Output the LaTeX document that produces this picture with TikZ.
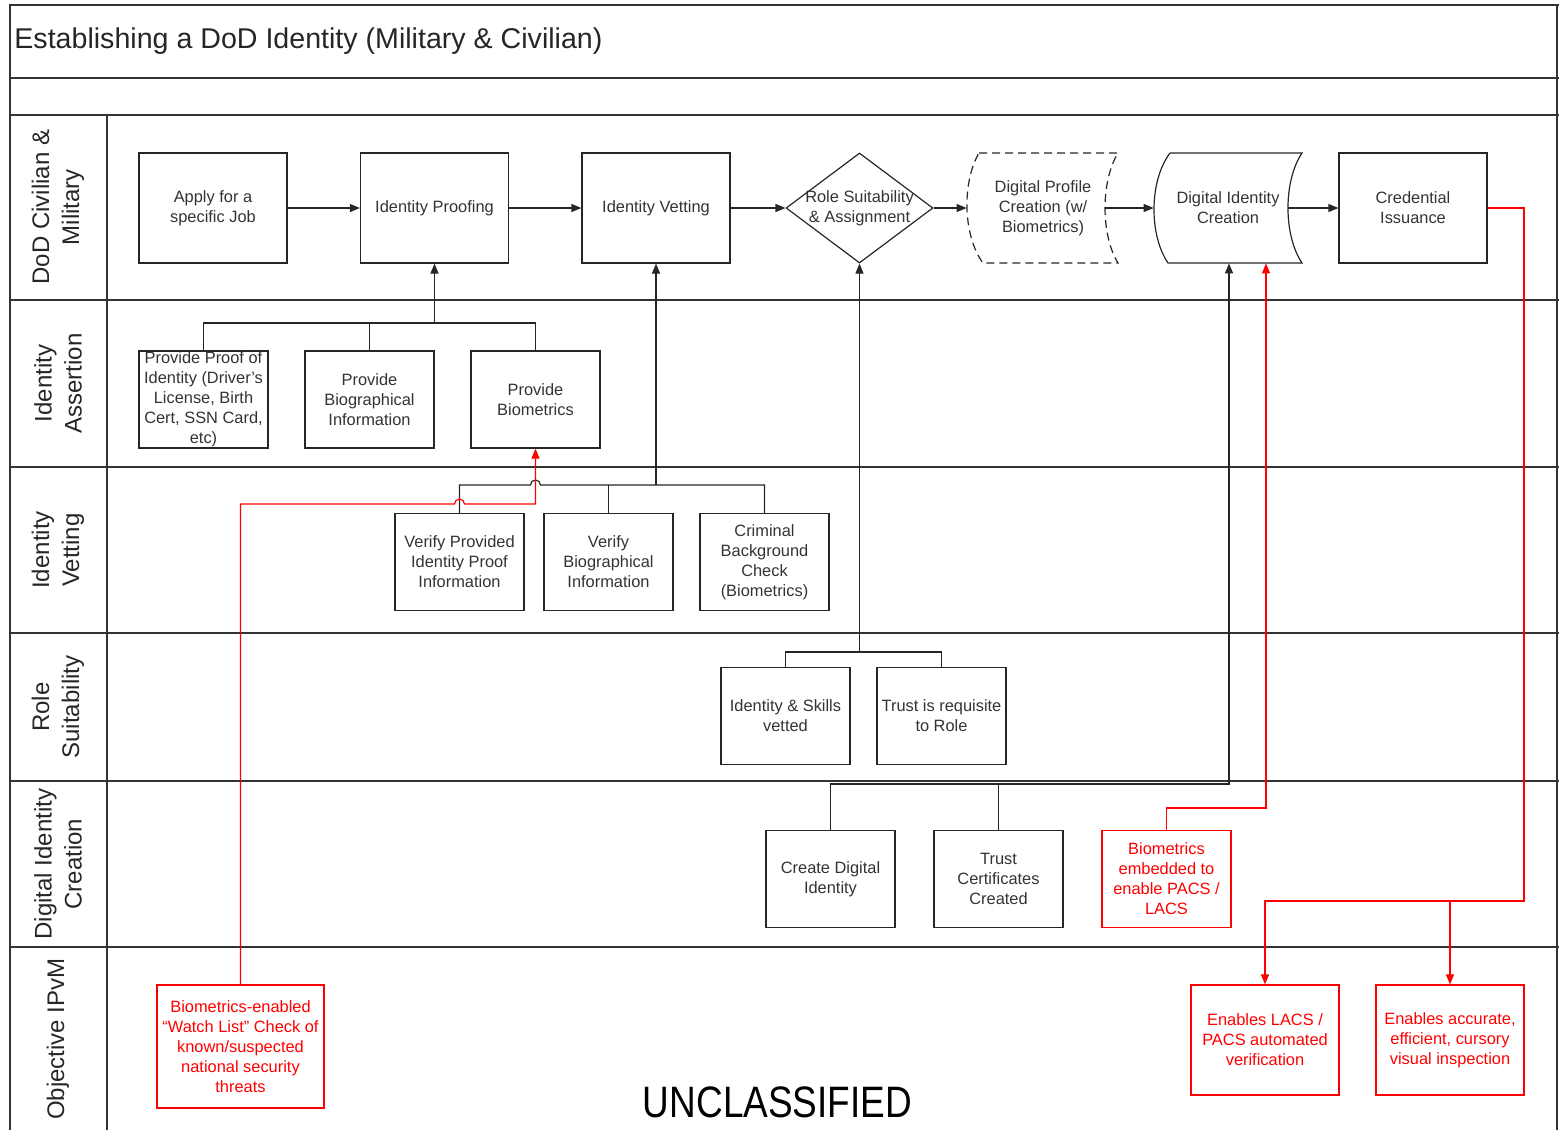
\documentclass[tikz,border=0pt]{standalone}
\usepackage{fontspec}
\setmainfont{Liberation Sans}
\usetikzlibrary{positioning}
\usetikzlibrary{shapes.geometric,arrows.meta}

\begin{document}
\begin{tikzpicture}[x=0.5pt,y=-0.5pt,
  boxtext/.style={text=black!80,align=center,font=\fontsize{8.2}{10}\selectfont},
  box/.style={boxtext,draw=black!85,line width=0.6pt,inner sep=1pt,
    minimum width=64.5pt,minimum height=48.5pt},
  bigbox/.style={box,minimum width=74pt,minimum height=55pt},
  redbox/.style={box,draw=red,text=red},
  lane/.style={rotate=90,align=center,text=black!85,font=\fontsize{12}{15}\selectfont},
  frame/.style={draw=black!80,line width=1pt},
  conn/.style={draw=black!85,line width=0.6pt},
  arr/.style={conn,-{Triangle[length=5pt,width=4pt]}},
  redline/.style={conn,draw=red},
  redarr/.style={redline,-{Triangle[length=5pt,width=4pt]}}
]
\useasboundingbox (0,0) rectangle (1559,1130);

\draw[frame] (10,1130) -- (10,5) -- (1559,5);
\draw[frame] (1557,5) -- (1557,1130);
\foreach \y in {78,115,300,467,633,781,947}
  \draw[frame] (10,\y) -- (1559,\y);
\draw[frame] (107,115) -- (107,1130);

\node[anchor=west,inner sep=0pt,text=black!85,font=\fontsize{14.3}{17}\selectfont] (title) at (14,41)
  {Establishing a DoD Identity (Military \& Civilian)};

\node[lane] (l1) at (58,207) {DoD Civilian \&\\Military};
\node[lane] (l2) at (58,383.5) {Identity\\Assertion};
\node[lane] (l3) at (58,550) {Identity\\Vetting};
\node[lane] (l4) at (58,707) {Role\\Suitability};
\node[lane] (l5) at (58,864) {Digital Identity\\Creation};
\node[lane] (l6) at (58,1039) {Objective IPvM};

% main flow
\node[bigbox] (apply) at (213,208) {Apply for a\\specific Job};
\node[bigbox] (proofing) at (434.5,208) {Identity Proofing};
\node[bigbox] (vetting) at (656,208) {Identity Vetting};
\node[diamond,draw=black!85,line width=0.6pt,inner sep=0pt,aspect=1.34,
  minimum width=73.5pt,minimum height=55pt,
  label={[boxtext]center:Role Suitability\\\& Assignment}] (role) at (859.5,208) {};
\node[inner sep=0pt,minimum width=69pt,minimum height=55pt,
  label={[boxtext,xshift=3.5pt]center:Digital Profile\\Creation (w/\\Biometrics)}] (profile) at (1036,208) {};
\draw[conn,dash pattern=on 4pt off 2.5pt] (979,153) -- (1118,153)
  .. controls (1100.7,181) and (1100.7,235) .. (1118,263) -- (983,263)
  .. controls (962.3,235) and (962.3,181) .. (979,153);
\node[inner sep=0pt,minimum width=67pt,minimum height=55pt,
  label={[boxtext,xshift=3.5pt]center:Digital Identity\\Creation}] (ident) at (1221,208) {};
\draw[conn] (1170,153) -- (1302,153)
  .. controls (1283.3,181) and (1283.3,235) .. (1302,263) -- (1168,263)
  .. controls (1149,235) and (1149,181) .. (1170,153);
\node[bigbox] (cred) at (1413,208) {Credential\\Issuance};

\draw[arr] (apply) -- (proofing);
\draw[arr] (proofing) -- (vetting);
\draw[arr] (vetting) -- (role);
\draw[arr] (role) -- (profile);
\draw[arr] (profile) -- (ident);
\draw[arr] (ident) -- (cred);

% identity assertion
\node[box,inner sep=0pt] (poi) at (203.5,399.5)
  {Provide Proof of\\Identity (Driver’s\\License, Birth\\Cert, SSN Card,\\etc)};
\node[box] (bioinfo) at (369.5,399.5) {Provide\\Biographical\\Information};
\node[box] (biom) at (535.5,399.5) {Provide\\Biometrics};

\coordinate (j2) at (434.5,323);
\draw[conn] (poi.north) |- (j2) -| (biom.north);
\draw[conn] (bioinfo.north) -- (bioinfo.north |- j2);
\draw[arr] (j2) -- (proofing.south);

% identity vetting
\node[box] (vpi) at (459.5,562) {Verify Provided\\Identity Proof\\Information};
\node[box] (vbi) at (608.5,562) {Verify\\Biographical\\Information};
\node[box] (cbc) at (764.5,562) {Criminal\\Background\\Check\\(Biometrics)};

\coordinate (j3) at (656,485);
\coordinate (r3) at (535.5,504);
\draw[conn] (vpi.north) -- (vpi.north |- j3) -- ([xshift=-2.5pt]r3 |- j3)
  arc (180:0:2.5pt) -- (cbc.north |- j3) -- (cbc.north);
\draw[conn] (vbi.north) -- (vbi.north |- j3);
\draw[arr] (j3) -- (vetting.south);

% role suitability
\node[box] (isv) at (785.5,716) {Identity \& Skills\\vetted};
\node[box] (tir) at (941.5,716) {Trust is requisite\\to Role};

\coordinate (j4) at (859.5,652);
\draw[conn] (isv.north) |- (j4) -| (tir.north);
\draw[arr] (j4) -- (role.south);

% digital identity creation
\node[box] (cdi) at (830.5,879) {Create Digital\\Identity};
\node[box] (tcc) at (998.5,879) {Trust\\Certificates\\Created};
\node[redbox] (bpl) at (1166.5,879) {Biometrics\\embedded to\\enable PACS /\\LACS};

\coordinate (j5) at (1229,784);
\draw[conn] (tcc.north) -- (tcc.north |- j5);
\draw[arr] (cdi.north) |- (j5) -- (j5 |- ident.south);
\coordinate (r5) at (1266,808);
\draw[redarr] (bpl.north) |- (r5) -- (r5 |- ident.south);

% objective
\node[redbox,minimum width=83.5pt,minimum height=61.5pt] (watch) at (240.5,1046.5)
  {Biometrics-enabled\\“Watch List” Check of\\known/suspected\\national security\\threats};
\node[redbox,minimum width=74pt,minimum height=55pt] (lacs) at (1265,1040)
  {Enables LACS /\\PACS automated\\verification};
\node[redbox,minimum width=74pt,minimum height=55pt] (insp) at (1450,1040)
  {Enables accurate,\\efficient, cursory\\visual inspection};

\draw[redarr] (watch.north) |- ([xshift=-2.5pt]vpi.north |- r3)
  arc (180:0:2.5pt) -- (r3) -- (biom.south);
\coordinate (r6) at (1524,901);
\draw[redarr] (cred.east) -| (r6) -| (lacs.north);
\draw[redarr] (r6 -| insp.north) -- (insp.north);

\node[font=\fontsize{22}{22}\selectfont] (uncl) at (777.5,1102)
  {\scalebox{0.84}[1]{UNCLASSIFIED}};

\end{tikzpicture}
\end{document}
